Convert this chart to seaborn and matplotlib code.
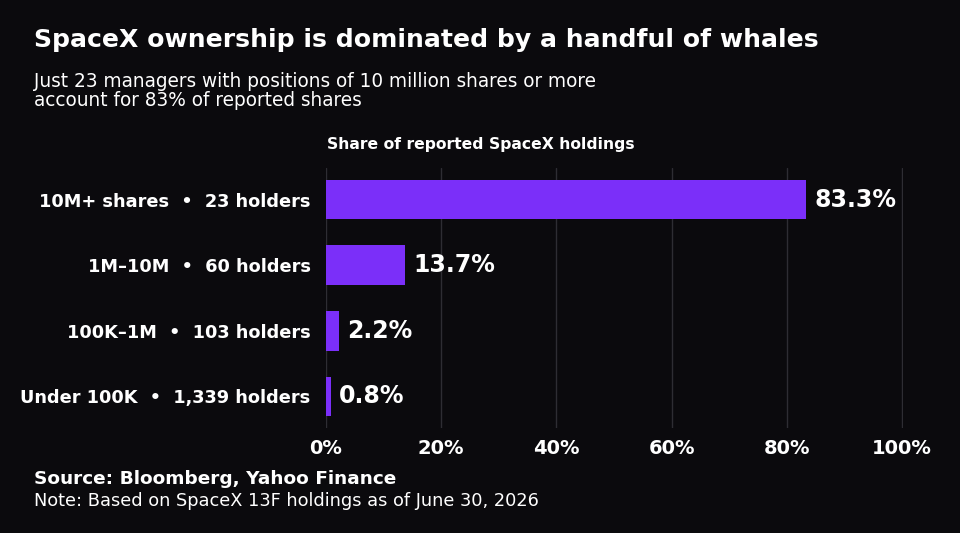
# SpaceX 13F 보유 분포 - 가로 막대 그래프

import matplotlib
matplotlib.use('Agg')
import matplotlib.pyplot as plt
import seaborn as sns
import pandas as pd

# 데이터
tiers = ['10M+ shares', '1M\u201310M', '100K\u20131M', 'Under 100K']
holders = ['23', '60', '103', '1,339']
share_pct = [83.3, 13.7, 2.2, 0.8]
x_ticks = [0, 20, 40, 60, 80, 100]

labels = [f'{t}  \u2022  {h} holders' for t, h in zip(tiers, holders)]
df = pd.DataFrame({'label': labels, 'share': share_pct})

BG = '#0b0a0d'
PURPLE = '#7b2ff9'
GRID = '#2e2d33'

sns.set_style('dark')
plt.rcParams['font.family'] = ['DejaVu Sans']

fig = plt.figure(figsize=(9.6, 5.33), dpi=100, facecolor=BG)
ax = fig.add_axes([0.3396, 0.197, 0.601, 0.4878])
ax.set_facecolor(BG)

sns.barplot(data=df, x='share', y='label', orient='h', color=PURPLE,
            width=0.6, saturation=1, linewidth=0, ax=ax)

ax.set_xlim(0, 100.2)
ax.set_ylim(3.48, -0.48)
ax.set_xticks(x_ticks)
ax.set_xticklabels([f'{v}%' for v in x_ticks], color='white',
                   fontsize=14, fontweight='bold')
ax.tick_params(axis='x', length=0, pad=8)
ax.tick_params(axis='y', length=0, pad=11, labelsize=12.8, labelcolor='white')
for t in ax.get_yticklabels():
    t.set_fontweight('bold')
ax.set_xlabel('')
ax.set_ylabel('')
ax.grid(axis='x', color=GRID, linewidth=1)
ax.grid(axis='y', visible=False)
ax.set_axisbelow(True)
for s in ax.spines.values():
    s.set_visible(False)

# 값 라벨
for i, v in enumerate(share_pct):
    ax.text(v + 1.5, i, f'{v}%', va='center', ha='left', color='white',
            fontsize=17, fontweight='bold')

# 제목/부제/출처
fig.text(34 / 960, 1 - 40 / 533, 'SpaceX ownership is dominated by a handful of whales',
         color='white', fontsize=18.1, fontweight='bold', va='center')
fig.text(34 / 960, 1 - 91 / 533,
         'Just 23 managers with positions of 10 million shares or more\naccount for 83% of reported shares',
         color='white', fontsize=13.35, va='center', linespacing=1.0)
fig.text(327 / 960, 1 - 145 / 533, 'Share of reported SpaceX holdings',
         color='white', fontsize=11.25, fontweight='bold', va='center')
fig.text(34 / 960, 1 - 479 / 533, 'Source: Bloomberg, Yahoo Finance',
         color='white', fontsize=13.3, fontweight='bold', va='center')
fig.text(34 / 960, 1 - 501 / 533, 'Note: Based on SpaceX 13F holdings as of June 30, 2026',
         color='white', fontsize=12.75, va='center')

fig.savefig('out.png', dpi=100, facecolor=BG)
